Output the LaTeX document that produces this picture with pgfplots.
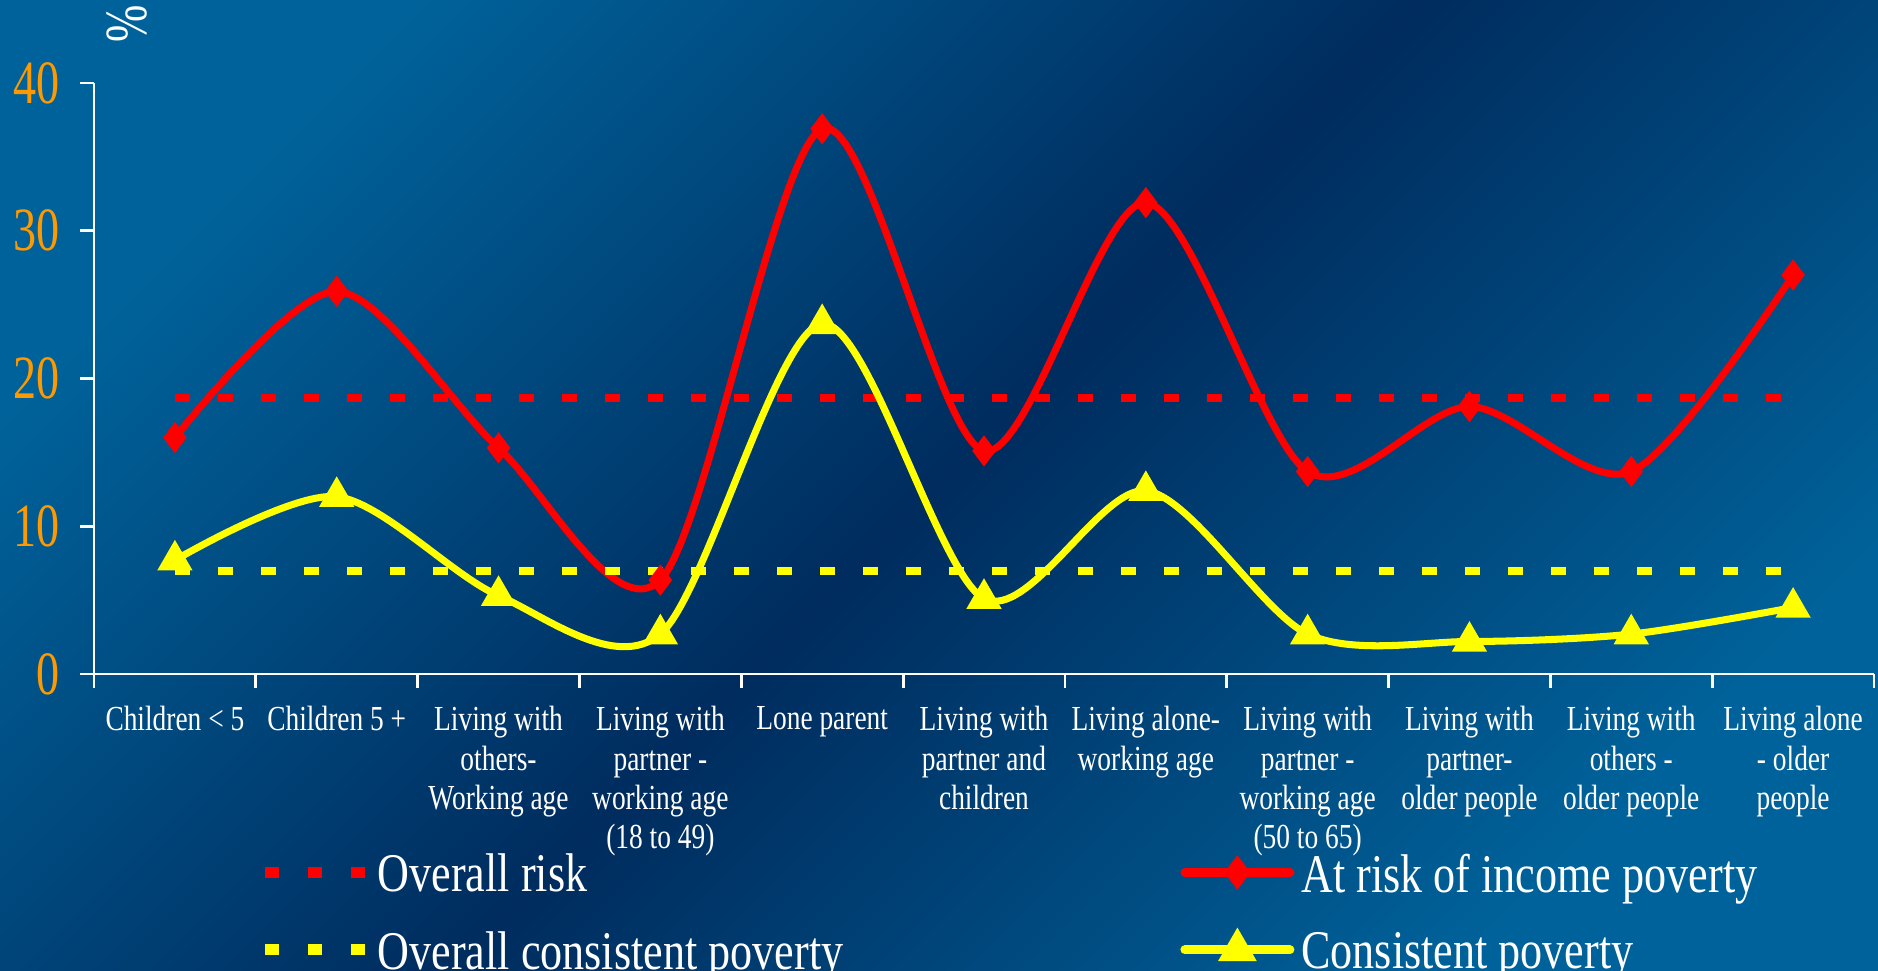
\documentclass[border=0pt]{standalone}
\usepackage{fontspec}
\setmainfont{Liberation Serif}
\newfontfamily\cond[FakeStretch=0.78]{Liberation Serif}
\newfontfamily\condl[FakeStretch=0.81]{Liberation Serif}
\newfontfamily\condy[FakeStretch=0.75]{Liberation Serif}
\usepackage{pgfplots}
\pgfplotsset{compat=1.18}
\definecolor{bglight}{RGB}{0,98,154}
\definecolor{bgdark}{RGB}{0,44,94}
\definecolor{tickorange}{RGB}{255,153,0}
\definecolor{lred}{RGB}{255,0,0}
\definecolor{lyellow}{RGB}{255,255,0}

\pgfplotsset{
    dashleg/.style={legend image code/.code={%
        \draw[##1, line width=0.11cm, dash pattern=on 0.14cm off 0.29cm] (0cm,0.03cm) -- (1.0cm,0.03cm);}},
    markleg/.style={legend image code/.code={%
        \draw[##1, line width=0.09cm, line cap=round, mark repeat=2, mark phase=2]
            plot coordinates {(0cm,0.03cm) (0.525cm,0.03cm) (1.05cm,0.03cm)};}},
}

\begin{document}
\begin{tikzpicture}
\shade[top color=bglight, bottom color=bglight, middle color=bgdark, shading angle=45] (0,0) rectangle (18.78,9.71);
\path[use as bounding box] (0,0) rectangle (18.78,9.71);
\begin{axis}[
    at={(0.94cm,2.97cm)}, anchor=south west,
    scale only axis, width=17.8cm, height=5.91cm,
    xmin=-0.5, xmax=10.5, ymin=0, ymax=40,
    axis x line*=bottom, axis y line*=left,
    axis line style={white, line width=0.8pt},
    tick style={white, line width=0.8pt},
    tick align=outside, major tick length=0.14cm,
    clip=false,
    /pgf/number format/assume math mode=true,
    ytick={0,10,20,30,40},
    y tick label style={font=\condy\fontsize{17.5}{19}\selectfont, text=tickorange, xshift=-0.08cm},
    xtick={-0.5,0.5,...,10.5},
    xticklabels={},
    extra x ticks={0,...,10},
    extra x tick style={tick style={draw=none}},
    extra x tick labels={{Children < 5}, {Children 5 +}, {Living with\\others-\\Working age},
        {Living with\\partner -\\working age\\(18 to 49)}, {Lone parent},
        {Living with\\partner and\\children}, {Living alone-\\working age},
        {Living with\\partner -\\working age\\(50 to 65)}, {Living with\\partner-\\older people},
        {Living with\\others -\\older people}, {Living alone\\- older\\people}},
    x tick label style={font=\cond\fontsize{10}{11.2}\selectfont, text=white, align=center, anchor=north, yshift=-0.06cm},
    legend columns=2,
    legend cell align=left,
    legend style={at={(rel axis cs:0.0927,-0.291)}, anchor=north west, draw=none, fill=none,
        inner sep=0pt, row sep=0.2cm, text=white,
        font=\condl\fontsize{15.5}{17}\selectfont,
        /tikz/every even column/.append style={column sep=3.30cm}},
]
\addplot[lred, line width=2.3pt, dash pattern=on 0.15cm off 0.28cm, dashleg]
    coordinates {(0,18.7) (10,18.7)};
\addlegendentry{Overall risk}
\addplot[lred, line width=2pt, smooth, mark=diamond*, mark size=2.8pt, markleg]
    coordinates {(0,16.0) (1,25.9) (2,15.3) (3,6.35) (4,36.9) (5,15.1) (6,31.9) (7,13.7) (8,18.1) (9,13.7) (10,27.0)};
\addlegendentry{At risk of income poverty}
\addplot[lyellow, line width=2.3pt, dash pattern=on 0.15cm off 0.28cm, dashleg]
    coordinates {(0,7.0) (10,7.0)};
\addlegendentry{Overall consistent poverty}
\addplot[lyellow, line width=2pt, smooth, mark=triangle*, mark size=3.8pt, markleg]
    coordinates {(0,7.7) (1,12.0) (2,5.3) (3,2.7) (4,23.7) (5,5.1) (6,12.4) (7,2.7) (8,2.2) (9,2.7) (10,4.5)};
\addlegendentry{Consistent poverty}
\draw[white, line width=0.8pt] (axis cs:-0.5,0) -- ++(-0.14cm,0);
\end{axis}
\node[rotate=90, text=white, font=\condy\fontsize{17}{19}\selectfont] at (1.27,9.47) {\%};
\end{tikzpicture}
\end{document}
